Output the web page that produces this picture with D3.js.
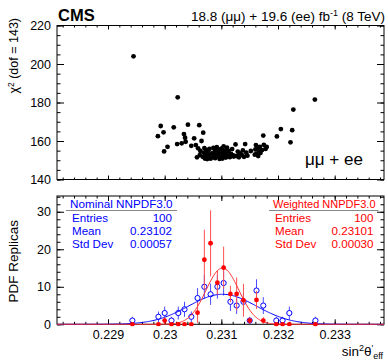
<!DOCTYPE html>
<html><head><meta charset="utf-8">
<script src="https://cdn.jsdelivr.net/npm/d3@7"></script>
<style>body{margin:0;background:#fff} text{font-family:"Liberation Sans",Arial,sans-serif}</style>
</head><body>
<svg id="c" width="388" height="363" xmlns="http://www.w3.org/2000/svg"></svg>
<script>
// ---------- data ----------
const binCenters     = [0.22943,0.22989,0.23000,0.23012,0.23024,0.23035,0.23047,0.23058,0.23070,0.23081,0.23093,0.23104,0.23116,0.23127,0.23139,0.23150,0.23162,0.23174,0.23197,0.23208,0.23220,0.23266];
const nominalCounts  = [1,2,3,1,3,4,2,7,10,8,10,11,6,5,6,1,9,5,1,1,3,1];
const nominalErrors  = [1,1.41,1.73,1,1.73,2,1.41,2.65,3.16,2.83,3.16,3.32,2.45,2.24,2.45,1,3,2.24,1,1,1.73,1];
const weightedCounts = [0,0,1.0,0,0,0,0,3.1,17.2,21.6,11.1,15.1,8.1,8.1,6.4,1.0,6.5,1.0,0,0,0,0];
const weightedErrors = [0,0,0.9,0,0,0,0,2.7,8.0,8.8,3.2,5.6,2.2,4.4,4.4,0.9,2.4,0.9,0,0,0,0];

const replicaSin2 = [
 0.22945,
 0.22988,0.22993,
 0.22998,0.22999,0.23005,
 0.23016,
 0.23022,0.23023,0.23030,
 0.23034,0.23036,0.23037,0.23041,
 0.23047,0.23052,
 0.23055,0.23057,0.23059,0.23061,0.23062,0.23063,0.23065,
 0.23068,0.23067,0.23069,0.23070,0.23071,0.23072,0.23073,0.23074,0.23075,0.23076,
 0.23078,0.23079,0.23081,0.23083,0.23084,0.23086,0.23087,0.23088,
 0.23089,0.23090,0.23091,0.23092,0.23093,0.23094,0.23096,0.23097,0.23098,0.23099,
 0.23100,0.23101,0.23102,0.23103,0.23104,0.23105,0.23107,0.23108,0.23109,0.23110,0.23111,
 0.23113,0.23115,0.23117,0.23119,0.23121,0.23122,
 0.23125,0.23127,0.23129,0.23131,0.23133,
 0.23136,0.23138,0.23140,0.23142,0.23144,0.23146,
 0.23152,
 0.23159,0.23160,0.23161,0.23162,0.23164,0.23165,0.23167,0.23168,0.23169,
 0.23172,0.23174,0.23175,0.23178,0.23180,
 0.23198,0.23205,0.23222,0.23225,0.23227,0.23265];
const replicaChi2 = [
 204.0,
 162.5,167.8,
 164.5,154.6,157.0,
 167.1,
 158.4,182.7,158.8,
 163.6,161.7,159.6,168.5,
 157.5,161.4,
 157.9,151.5,156.2,168.2,152.7,154.8,160.0,
 164.3,151.8,154.0,156.3,150.9,153.2,155.4,152.1,150.6,154.7,
 152.8,155.9,150.8,153.6,151.5,156.4,152.4,154.3,
 151.1,155.2,153.0,156.8,151.9,154.6,152.6,150.7,155.6,153.4,
 152.0,156.1,150.9,154.2,157.2,152.9,155.0,151.4,153.7,156.5,152.3,
 154.9,151.6,153.3,155.8,152.5,151.9,
 158.2,152.2,154.5,151.5,153.6,
 152.8,155.1,151.8,158.4,153.9,152.4,
 154.8,
 152.9,155.6,157.9,153.4,156.2,152.2,154.6,157.0,153.8,
 155.3,162.8,158.0,155.9,156.9,
 162.4,166.2,159.3,165.6,176.3,181.5];

const chi2Ticks   = [140,160,180,200,220];
const countTicks  = [0,10,20,30];
const sinTicks    = [0.229,0.230,0.231,0.232,0.233];
const sinTickLabels = ["0.229","0.23","0.231","0.232","0.233"];
const nominalFit  = [8.0, 0.23102, 0.00060];   // amplitude, mean, sigma
const weightedFit = [15.0, 0.23102, 0.00029];
const nominalTitle = "Nominal NNPDF3.0";
const weightedTitle = "Weighted NNPDF3.0";
const statNames = ["Entries","Mean","Std Dev"];
const nominalStats = ["100","0.23102","0.00057"];
const weightedStats = ["100","0.23101","0.00030"];

// ---------- layout ----------
const BLUE = "#0000ff", RED = "#ff0000";
const svg = d3.select("#c");
svg.append("rect").attr("width",388).attr("height",363).attr("fill","#fff");
const L = 57, R = 384;
const topY0 = 25.5, topY1 = 179.5;
const botY0 = 196, botY1 = 324.3;

const x = d3.scaleLinear().domain([0.2281, 0.23387]).range([L, R]);
const yTop = d3.scaleLinear().domain([140, 220]).range([topY1, topY0]);
const yBot = d3.scaleLinear().domain([0, 34.2]).range([botY1, botY0]);

function styleAxis(g){
  g.select(".domain").remove();
  g.selectAll("line").attr("stroke","#000").attr("stroke-width",1);
  g.selectAll("text").attr("font-family","Liberation Sans, Arial, sans-serif").attr("font-size",12.5).attr("fill","#000");
  g.attr("font-family",null).attr("font-size",null);
}
function frameAxes(ySc, y0, y1, majorY, minorY, yMaj, yMin, xMaj, xMin, labelsX){
  svg.append("rect").attr("x",L).attr("y",y0).attr("width",R-L).attr("height",y1-y0)
    .attr("fill","none").attr("stroke","#000").attr("stroke-width",1);
  svg.append("g").attr("transform",`translate(${L},0)`)
    .call(d3.axisLeft(ySc).tickValues(minorY).tickSize(-yMin).tickFormat("")).call(styleAxis);
  svg.append("g").attr("transform",`translate(${L},0)`)
    .call(d3.axisLeft(ySc).tickValues(majorY).tickSize(-yMaj).tickPadding(6)).call(styleAxis);
  svg.append("g").attr("transform",`translate(${R},0)`)
    .call(d3.axisRight(ySc).tickValues(minorY).tickSize(-yMin).tickFormat("")).call(styleAxis);
  svg.append("g").attr("transform",`translate(${R},0)`)
    .call(d3.axisRight(ySc).tickValues(majorY).tickSize(-yMaj).tickFormat("")).call(styleAxis);
  const minorX = d3.range(2282, 2339, 2).map(v=>v/10000);
  svg.append("g").attr("transform",`translate(0,${y0})`)
    .call(d3.axisTop(x).tickValues(minorX).tickSize(-xMin).tickFormat("")).call(styleAxis);
  svg.append("g").attr("transform",`translate(0,${y0})`)
    .call(d3.axisTop(x).tickValues(sinTicks).tickSize(-xMaj).tickFormat("")).call(styleAxis);
  svg.append("g").attr("transform",`translate(0,${y1})`)
    .call(d3.axisBottom(x).tickValues(minorX).tickSize(-xMin).tickFormat("")).call(styleAxis);
  svg.append("g").attr("transform",`translate(0,${y1})`)
    .call(d3.axisBottom(x).tickValues(sinTicks).tickSize(-xMaj).tickPadding(6)
      .tickFormat(labelsX ? ((d,i)=>sinTickLabels[i]) : ""))
    .call(styleAxis);
}

// ---------- top panel ----------
frameAxes(yTop, topY0, topY1, chi2Ticks, d3.range(140,221,5), 7, 3.5, 4, 2, false);
svg.append("g").selectAll("circle").data(replicaSin2).join("circle")
  .attr("cx",(d)=>x(d)).attr("cy",(d,i)=>yTop(replicaChi2[i])).attr("r",2.4).attr("fill","#000");
svg.append("text").attr("x",305).attr("y",165).attr("font-size",17).text("μμ + ee");

// ---------- bottom panel ----------
frameAxes(yBot, botY0, botY1, countTicks, d3.range(0,35,2), 7, 3.5, 5, 2.5, true);

const clipId = "clipBot";
svg.append("clipPath").attr("id",clipId).append("rect").attr("x",L).attr("y",botY0).attr("width",R-L).attr("height",botY1-botY0+2);

const gB = svg.append("g").attr("clip-path",`url(#${clipId})`);
const gauss = p => v => p[0]*Math.exp(-0.5*((v-p[1])/p[2])**2);
const samples = d3.range(0, 301).map(i => x.domain()[0] + i*(x.domain()[1]-x.domain()[0])/300);
const line = f => d3.line().x(v=>x(v)).y(v=>yBot(f(v)))(samples);

// nominal (blue open circles)
const rB = 2.6;
binCenters.forEach((c,i)=>{
  const n = nominalCounts[i], e = nominalErrors[i];
  const cx = x(c), cy = yBot(n);
  if (yBot(n+e) < cy - rB) gB.append("line").attr("x1",cx).attr("x2",cx).attr("y1",yBot(n+e)).attr("y2",cy-rB).attr("stroke","#4a4aff");
  if (yBot(n-e) > cy + rB) gB.append("line").attr("x1",cx).attr("x2",cx).attr("y1",cy+rB).attr("y2",yBot(n-e)).attr("stroke","#4a4aff");
});
gB.append("path").attr("d",line(gauss(nominalFit))).attr("fill","none").attr("stroke",BLUE).attr("stroke-width",1);
gB.append("g").selectAll("circle").data(binCenters).join("circle")
  .attr("cx",d=>x(d)).attr("cy",(d,i)=>yBot(nominalCounts[i])).attr("r",rB)
  .attr("fill","none").attr("stroke",BLUE).attr("stroke-width",1);

// weighted (red filled)
binCenters.forEach((c,i)=>{
  const n = weightedCounts[i], e = weightedErrors[i];
  if (e>0) gB.append("line").attr("x1",x(c)).attr("x2",x(c)).attr("y1",yBot(n+e)).attr("y2",yBot(n-e)).attr("stroke","#ff5050");
});
gB.append("path").attr("d",line(gauss(weightedFit))).attr("fill","none").attr("stroke","#ff3030").attr("stroke-width",1);
gB.append("g").selectAll("circle").data(binCenters).join("circle")
  .attr("cx",d=>x(d)).attr("cy",(d,i)=>yBot(weightedCounts[i])).attr("r",2.4).attr("fill",RED);

// stats boxes
function statBox(x0, x1, title, vals, col, tfs){
  const fs = 11.6;
  svg.append("text").attr("x",x0+3).attr("y",207.5).attr("font-size",tfs).attr("fill",col).text(title);
  svg.append("line").attr("x1",x0-1).attr("x2",x1+5).attr("y1",210.5).attr("y2",210.5).attr("stroke","#888");
  statNames.forEach((nm,i)=>{
    const yy = 221.8 + i*13.3;
    svg.append("text").attr("x",x0+5).attr("y",yy).attr("font-size",fs).attr("fill",col).text(nm);
    svg.append("text").attr("x",x1).attr("y",yy).attr("font-size",fs).attr("fill",col).attr("text-anchor","end").text(vals[i]);
  });
}
statBox(67, 172, nominalTitle, nominalStats, BLUE, 11.7);
statBox(270, 373.5, weightedTitle, weightedStats, RED, 11.0);

// ---------- titles ----------
svg.append("text").attr("x",58).attr("y",20.5).attr("font-size",16.5).attr("font-weight","bold").text("CMS");
const t = svg.append("text").attr("x",385).attr("y",20.5).attr("font-size",13.5).attr("text-anchor","end");
t.append("tspan").text("18.8 (μμ) + 19.6 (ee) fb");
t.append("tspan").attr("dy",-5).attr("font-size",9).text("-1");
t.append("tspan").attr("dy",5).text(" (8 TeV)");

const yl1 = svg.append("text").attr("transform","translate(18,18) rotate(-90)").attr("text-anchor","end").attr("font-size",12.5);
yl1.append("tspan").text("χ");
yl1.append("tspan").attr("dy",-4.5).attr("font-size",8.5).text("2");
yl1.append("tspan").attr("dy",4.5).text(" (dof = 143)");

svg.append("text").attr("transform","translate(18,220) rotate(-90)").attr("text-anchor","end").attr("font-size",13.5).text("PDF Replicas");

const xl = svg.append("text").attr("x",383).attr("y",356).attr("font-size",13.5).attr("text-anchor","end");
xl.append("tspan").text("sin");
xl.append("tspan").attr("dy",-5).attr("font-size",9).text("2");
xl.append("tspan").attr("dy",5).text("θ");
xl.append("tspan").attr("dy",-5).attr("font-size",9).text("′");
xl.append("tspan").attr("dy",8).attr("font-size",9).text("eff");
</script>
</body></html>
